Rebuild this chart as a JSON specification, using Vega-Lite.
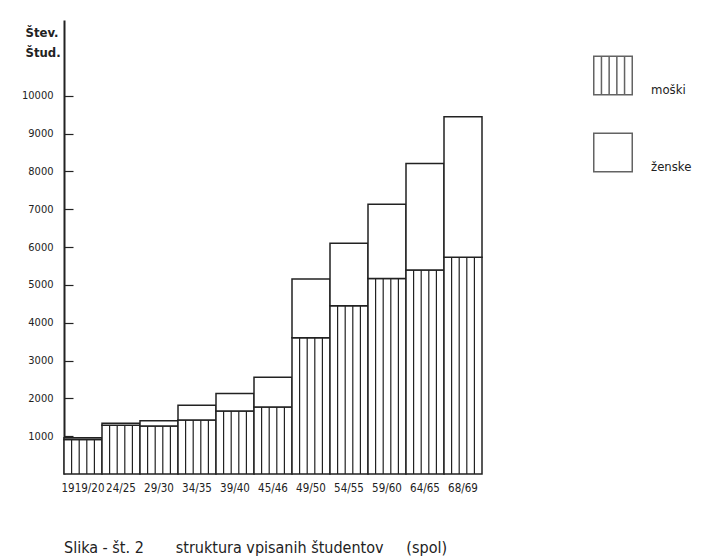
{
  "$schema": "https://vega.github.io/schema/vega-lite/v6.json",
  "width": 636,
  "height": 454,
  "autosize": "none",
  "padding": {"left": 64, "top": 20, "right": 10, "bottom": 86},
  "background": "white",
  "config": {
    "font": "DejaVu Sans Condensed, DejaVu Sans, sans-serif",
    "view": {"stroke": null}
  },
  "title": {
    "text": "Slika - št. 2\u00a0\u00a0\u00a0\u00a0\u00a0\u00a0\u00a0struktura vpisanih študentov\u00a0\u00a0\u00a0\u00a0\u00a0(spol)",
    "orient": "bottom",
    "anchor": "start",
    "frame": "group",
    "offset": 46,
    "fontSize": 16,
    "fontWeight": "normal",
    "color": "#222"
  },
  "data": {
    "values": [
      {"obdobje": "1919/20", "spol": "moški", "stevilo": 910},
      {"obdobje": "1919/20", "spol": "ženske", "stevilo": 50},
      {"obdobje": "24/25", "spol": "moški", "stevilo": 1290},
      {"obdobje": "24/25", "spol": "ženske", "stevilo": 50},
      {"obdobje": "29/30", "spol": "moški", "stevilo": 1270},
      {"obdobje": "29/30", "spol": "ženske", "stevilo": 135},
      {"obdobje": "34/35", "spol": "moški", "stevilo": 1425},
      {"obdobje": "34/35", "spol": "ženske", "stevilo": 390},
      {"obdobje": "39/40", "spol": "moški", "stevilo": 1665},
      {"obdobje": "39/40", "spol": "ženske", "stevilo": 460},
      {"obdobje": "45/46", "spol": "moški", "stevilo": 1770},
      {"obdobje": "45/46", "spol": "ženske", "stevilo": 785},
      {"obdobje": "49/50", "spol": "moški", "stevilo": 3600},
      {"obdobje": "49/50", "spol": "ženske", "stevilo": 1555},
      {"obdobje": "54/55", "spol": "moški", "stevilo": 4450},
      {"obdobje": "54/55", "spol": "ženske", "stevilo": 1650},
      {"obdobje": "59/60", "spol": "moški", "stevilo": 5165},
      {"obdobje": "59/60", "spol": "ženske", "stevilo": 1965},
      {"obdobje": "64/65", "spol": "moški", "stevilo": 5390},
      {"obdobje": "64/65", "spol": "ženske", "stevilo": 2820},
      {"obdobje": "68/69", "spol": "moški", "stevilo": 5730},
      {"obdobje": "68/69", "spol": "ženske", "stevilo": 3715}
    ]
  },
  "encoding": {
    "x": {
      "field": "obdobje",
      "type": "ordinal",
      "sort": null,
      "scale": {"range": [0, 418], "paddingInner": 0, "paddingOuter": 0},
      "axis": {
        "title": null,
        "domain": false,
        "ticks": false,
        "labelAngle": 0,
        "labelPadding": 8,
        "labelFontSize": 11.5,
        "labelColor": "#222"
      }
    }
  },
  "layer": [
    {
      "mark": {"type": "bar", "fill": "white", "stroke": "#222", "strokeWidth": 1.5},
      "encoding": {
        "y": {
          "field": "stevilo",
          "type": "quantitative",
          "stack": "zero",
          "scale": {"domain": [0, 12000], "nice": false},
          "axis": {
            "title": ["Štev.", "Štud."],
            "titleAngle": 0,
            "titleAlign": "left",
            "titleBaseline": "top",
            "titleX": -39,
            "titleY": 6,
            "titleFontSize": 13,
            "titleFontWeight": "bold",
            "titleLineHeight": 20,
            "titleColor": "#222",
            "values": [1000, 2000, 3000, 4000, 5000, 6000, 7000, 8000, 9000, 10000],
            "format": "d",
            "grid": false,
            "domainWidth": 2,
            "domainColor": "#222",
            "tickSize": -9,
            "tickWidth": 1.2,
            "tickColor": "#222",
            "labelPadding": 20,
            "labelFontSize": 11,
            "labelColor": "#222"
          }
        },
        "detail": {"field": "spol"},
        "order": {"field": "spol", "sort": "ascending"}
      }
    },
    {
      "transform": [{"filter": "datum.spol == 'moški'"}],
      "mark": {"type": "rule", "stroke": "#222", "strokeWidth": 1.2},
      "encoding": {
        "x": {"field": "obdobje", "type": "ordinal", "sort": null, "bandPosition": 0.2},
        "y": {"field": "stevilo", "type": "quantitative"},
        "y2": {"datum": 0}
      }
    },
    {
      "transform": [{"filter": "datum.spol == 'moški'"}],
      "mark": {"type": "rule", "stroke": "#222", "strokeWidth": 1.2},
      "encoding": {
        "x": {"field": "obdobje", "type": "ordinal", "sort": null, "bandPosition": 0.4},
        "y": {"field": "stevilo", "type": "quantitative"},
        "y2": {"datum": 0}
      }
    },
    {
      "transform": [{"filter": "datum.spol == 'moški'"}],
      "mark": {"type": "rule", "stroke": "#222", "strokeWidth": 1.2},
      "encoding": {
        "x": {"field": "obdobje", "type": "ordinal", "sort": null, "bandPosition": 0.6},
        "y": {"field": "stevilo", "type": "quantitative"},
        "y2": {"datum": 0}
      }
    },
    {
      "transform": [{"filter": "datum.spol == 'moški'"}],
      "mark": {"type": "rule", "stroke": "#222", "strokeWidth": 1.2},
      "encoding": {
        "x": {"field": "obdobje", "type": "ordinal", "sort": null, "bandPosition": 0.8},
        "y": {"field": "stevilo", "type": "quantitative"},
        "y2": {"datum": 0}
      }
    },
    {
      "mark": {"type": "rule", "stroke": "#222", "strokeWidth": 1.5},
      "encoding": {"y": {"datum": 0}}
    },
    {
      "transform": [{"filter": "false"}],
      "mark": {"type": "point", "filled": false, "stroke": "#222", "strokeWidth": 1.5},
      "encoding": {
        "y": {"field": "stevilo", "type": "quantitative"},
        "shape": {
          "field": "spol",
          "type": "nominal",
          "scale": {
            "domain": ["moški", "ženske"],
            "range": [
              "M-1,-1.75H1V0.25H-1Z M-0.6,-1.75V0.25 M-0.2,-1.75V0.25 M0.2,-1.75V0.25 M0.6,-1.75V0.25",
              "M-1,-1.75H1V0.25H-1Z"
            ]
          },
          "legend": {
            "title": null,
            "orient": "none",
            "legendX": 529,
            "legendY": 50,
            "padding": 0,
            "symbolSize": 1482,
            "symbolStrokeWidth": 1.5,
            "symbolStrokeColor": "#222",
            "labelOffset": 18,
            "labelFontSize": 13,
            "labelColor": "#222",
            "rowPadding": 32
          }
        }
      }
    }
  ]
}
